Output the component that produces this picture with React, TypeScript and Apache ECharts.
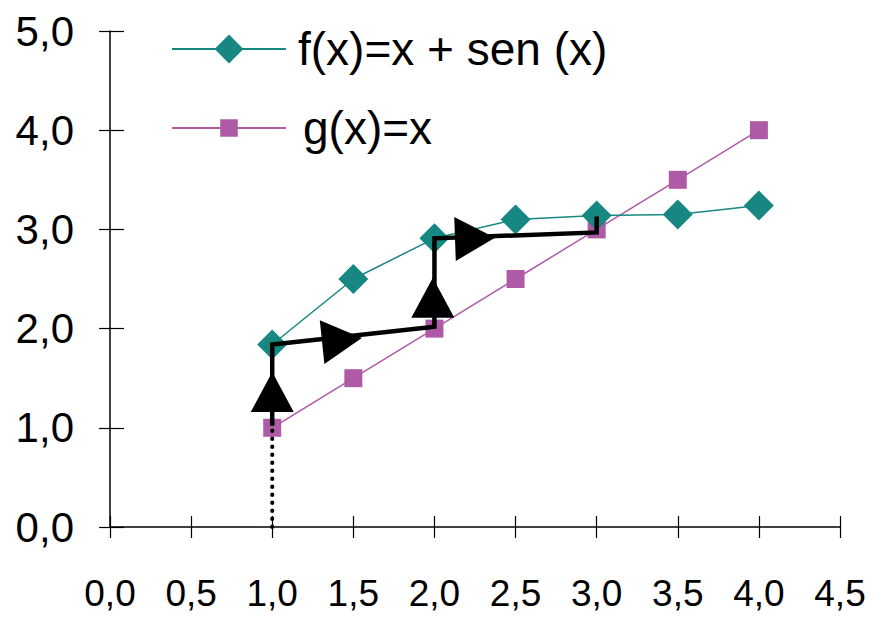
import React, { useEffect, useRef } from "react";
import * as echarts from "echarts";

const xValues = [1, 1.5, 2, 2.5, 3, 3.5, 4];
const fValues = [1.84, 2.5, 2.91, 3.1, 3.14, 3.15, 3.24];
const gValues = [1, 1.5, 2, 2.5, 3, 3.5, 4];
const cobwebX = [1, 1, 2, 2, 3, 3];
const cobwebY = [1.02, 1.84, 2.02, 2.91, 2.97, 3.13];
const dottedX = [1, 1];
const dottedY = [0, 1];
const upArrowX = [1, 1.99];
const upArrowY = [1.36, 2.31];
const rightArrowX = [1.43, 2.25];
const rightArrowY = [1.885, 2.91];
const rightArrowAngle = [-84, -88];
const fName = "f(x)=x + sen (x)";
const gName = "g(x)=x";

const fmt = (v: number) => v.toFixed(1).replace(".", ",");
const TEAL = "#178782";
const MAGENTA = "#AE5AA6";

export default function App() {
  const ref = useRef<HTMLDivElement>(null);
  useEffect(() => {
    if (!ref.current) return;
    const chart = echarts.init(ref.current, null, { renderer: "svg" });
    const font = "Liberation Sans, Arial, sans-serif";
    const xAxisBase = {
      type: "value" as const,
      min: 0,
      max: 4.5,
      interval: 0.5,
      splitLine: { show: false },
    };
    const yAxisBase = {
      type: "value" as const,
      min: 0,
      max: 5,
      interval: 1,
      splitLine: { show: false },
    };
    chart.setOption({
      animation: false,
      backgroundColor: "#ffffff",
      grid: { left: 110, right: 37, top: 31, bottom: 91, containLabel: false },
      xAxis: [
        {
          ...xAxisBase,
          axisLine: { lineStyle: { color: "#000", width: 1.5 } },
          axisTick: { length: 11, lineStyle: { color: "#000", width: 1.2 } },
          axisLabel: {
            color: "#000",
            fontSize: 37,
            fontFamily: font,
            margin: 48,
            formatter: fmt,
          },
        },
        {
          ...xAxisBase,
          position: "bottom",
          axisLine: { show: false },
          axisTick: { inside: true, length: 11, lineStyle: { color: "#000", width: 1.2 } },
          axisLabel: { show: false },
        },
      ],
      yAxis: [
        {
          ...yAxisBase,
          axisLine: { show: true, lineStyle: { color: "#000", width: 1.5 } },
          axisTick: { show: true, length: 11, lineStyle: { color: "#000", width: 1.2 } },
          axisLabel: {
            color: "#000",
            fontSize: 42,
            fontFamily: font,
            margin: 36,
            formatter: fmt,
          },
        },
        {
          ...yAxisBase,
          position: "left",
          axisLine: { show: false },
          axisTick: { show: true, inside: true, length: 14, lineStyle: { color: "#000", width: 1.2 } },
          axisLabel: { show: false },
        },
      ],
      legend: [
        {
          data: [fName],
          left: 171,
          top: 26,
          padding: 0,
          itemWidth: 114,
          itemHeight: 36,
          textStyle: { fontSize: 46, fontFamily: font, color: "#000", padding: [0, 0, 0, 7] },
          selectedMode: false,
        },
        {
          data: [gName],
          left: 171,
          top: 105,
          padding: 0,
          itemWidth: 114,
          itemHeight: 22,
          textStyle: { fontSize: 46, fontFamily: font, color: "#000", padding: [0, 0, 0, 12] },
          selectedMode: false,
        },
      ],
      series: [
        {
          name: gName,
          type: "line",
          data: xValues.map((x, i) => [x, gValues[i]]),
          symbol: "rect",
          symbolSize: 18,
          lineStyle: { color: MAGENTA, width: 1.5 },
          itemStyle: { color: MAGENTA },
          z: 2,
        },
        {
          name: fName,
          type: "line",
          data: xValues.map((x, i) => [x, fValues[i]]),
          symbol: "diamond",
          symbolSize: 30,
          lineStyle: { color: TEAL, width: 1.5 },
          itemStyle: { color: TEAL },
          z: 3,
        },
        {
          name: "dotted",
          type: "line",
          data: dottedX.map((x, i) => [x, dottedY[i]]),
          symbol: "none",
          lineStyle: { color: "#000", width: 4, type: [0.5, 7.5], cap: "round" },
          z: 4,
        },
        {
          name: "cobweb",
          type: "line",
          data: cobwebX.map((x, i) => [x, cobwebY[i]]),
          symbol: "none",
          lineStyle: { color: "#000", width: 4.5, join: "miter" },
          z: 5,
        },
        {
          name: "up",
          type: "scatter",
          data: upArrowX.map((x, i) => [x, upArrowY[i]]),
          symbol: "triangle",
          symbolSize: [43, 40],
          itemStyle: { color: "#000", opacity: 1 },
          z: 6,
        },
        {
          name: "right",
          type: "scatter",
          data: rightArrowX.map((x, i) => ({
            value: [x, rightArrowY[i]],
            symbolRotate: rightArrowAngle[i],
          })),
          symbol: "triangle",
          symbolSize: [44, 40],
          itemStyle: { color: "#000", opacity: 1 },
          z: 6,
        },
      ],
    });
    return () => chart.dispose();
  }, []);
  return (
    <div
      ref={ref}
      style={{ position: "fixed", left: 0, top: 0, width: 877, height: 618, background: "#fff" }}
    />
  );
}
